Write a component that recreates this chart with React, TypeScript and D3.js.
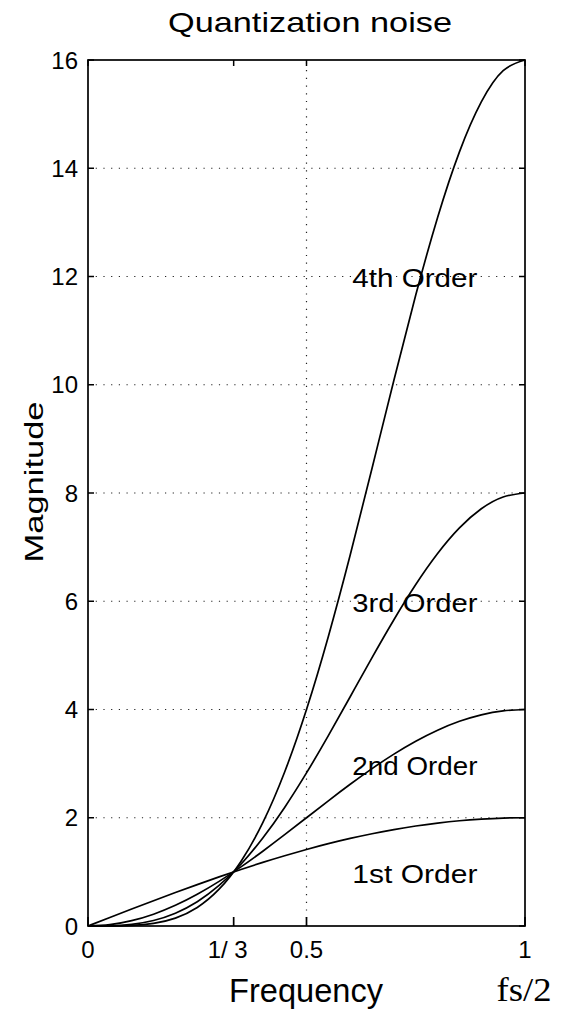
import React from 'react';
import * as d3 from 'd3';

// normalized frequency (1 = fs/2)
const freqs = [0, 0.05, 0.1, 0.15, 0.2, 0.25, 0.3, 0.35, 0.4, 0.45, 0.5, 0.55, 0.6, 0.65, 0.7, 0.75, 0.8, 0.85, 0.9, 0.95, 1];

const order1 = [0, 0.157, 0.313, 0.467, 0.618, 0.765, 0.908, 1.045, 1.176, 1.299, 1.414, 1.521, 1.618, 1.705, 1.782, 1.848, 1.902, 1.945, 1.975, 1.994, 2];
const order2 = [0, 0.025, 0.098, 0.218, 0.382, 0.586, 0.824, 1.092, 1.382, 1.687, 2.0, 2.313, 2.618, 2.908, 3.176, 3.414, 3.618, 3.782, 3.902, 3.975, 4];
const order3 = [0, 0.004, 0.031, 0.102, 0.236, 0.448, 0.749, 1.141, 1.625, 2.191, 2.828, 3.518, 4.236, 4.959, 5.659, 6.309, 6.882, 7.355, 7.708, 7.926, 8];
const order4 = [0, 0.001, 0.01, 0.048, 0.146, 0.343, 0.68, 1.193, 1.91, 2.846, 4.0, 5.35, 6.854, 8.457, 10.084, 11.657, 13.09, 14.303, 15.225, 15.803, 16];

const seriesNames = ['1st Order', '2nd Order', '3rd Order', '4th Order'];
// label anchor (frequency, magnitude) at text baseline start
const labelPos = [[0.605, 0.79], [0.605, 2.79], [0.605, 5.8], [0.605, 11.8]];

const yTicks = [0, 2, 4, 6, 8, 10, 12, 14, 16];
const xTicks = [0, 1 / 3, 0.5, 1];
const xTickLabels = ['0', '1/ 3', '0.5', '1'];
const gridX = [0.5];

const W = 566;
const H = 1015;
const m = { left: 88, right: 41, top: 60, bottom: 89 };

export default function App() {
  const x = d3.scaleLinear().domain([0, 1]).range([m.left, W - m.right]);
  const y = d3.scaleLinear().domain([0, 16]).range([H - m.bottom, m.top]);
  const all = [order1, order2, order3, order4];

  const line = d3.line<number>()
    .x((_, i) => x(freqs[i]))
    .y((d) => y(d))
    .curve(d3.curveNatural);

  const font = 'Liberation Sans, Arial, sans-serif';

  return (
    <svg width={W} height={H} style={{ position: 'absolute', left: 0, top: 0, background: '#fff' }}>
      {/* dotted grid */}
      {yTicks.slice(1, -1).map((t) => (
        <line key={'gy' + t} x1={x(0)} x2={x(1)} y1={y(t)} y2={y(t)}
          stroke="#222" strokeWidth={1.2} strokeDasharray="1.2,6.5" />
      ))}
      {gridX.map((t) => (
        <line key={'gx' + t} x1={x(t)} x2={x(t)} y1={y(0)} y2={y(16)}
          stroke="#222" strokeWidth={1.2} strokeDasharray="1.2,6.5" />
      ))}

      {/* curves */}
      {all.map((s, i) => (
        <path key={i} d={line(s) || ''} fill="none" stroke="#000" strokeWidth={1.7} />
      ))}

      {/* frame */}
      <rect x={x(0)} y={y(16)} width={x(1) - x(0)} height={y(0) - y(16)}
        fill="none" stroke="#000" strokeWidth={1.7} />

      {/* ticks */}
      {yTicks.map((t) => (
        <g key={'ty' + t}>
          <line x1={x(0)} x2={x(0) + 6} y1={y(t)} y2={y(t)} stroke="#000" strokeWidth={1.5} />
          <line x1={x(1)} x2={x(1) - 6} y1={y(t)} y2={y(t)} stroke="#000" strokeWidth={1.5} />
          <text x={x(0) - 10} y={y(t)} dy="0.36em" textAnchor="end"
            fontFamily={font} fontSize={24}>{t}</text>
        </g>
      ))}
      {xTicks.map((t, i) => (
        <g key={'tx' + i}>
          <line x1={x(t)} x2={x(t)} y1={y(0)} y2={y(0) - 9} stroke="#000" strokeWidth={1.7} />
          <line x1={x(t)} x2={x(t)} y1={y(16)} y2={y(16) + 6} stroke="#000" strokeWidth={1.5} />
          <text x={x(t) - (i === 1 ? 6 : 0)} y={y(0) + 32} textAnchor="middle"
            fontFamily={font} fontSize={24}>{xTickLabels[i]}</text>
        </g>
      ))}

      {/* series labels */}
      {seriesNames.map((n, i) => (
        <text key={n} x={x(labelPos[i][0])} y={y(labelPos[i][1])}
          fontFamily={font} fontSize={25} textLength={125} lengthAdjust="spacingAndGlyphs">{n}</text>
      ))}

      <text x={310} y={32} textAnchor="middle" fontFamily={font} fontSize={28}
        textLength={284} lengthAdjust="spacingAndGlyphs">Quantization noise</text>
      <text x={306} y={1002} textAnchor="middle" fontFamily={font} fontSize={33}
        textLength={154} lengthAdjust="spacingAndGlyphs">Frequency</text>
      <text transform={`translate(43,482) rotate(-90)`} textAnchor="middle"
        fontFamily={font} fontSize={26} textLength={161} lengthAdjust="spacingAndGlyphs">Magnitude</text>
      <text x={524} y={1001} textAnchor="middle" fontFamily="Liberation Serif, Times New Roman, serif"
        fontSize={33} textLength={55} lengthAdjust="spacingAndGlyphs">fs/2</text>
    </svg>
  );
}
